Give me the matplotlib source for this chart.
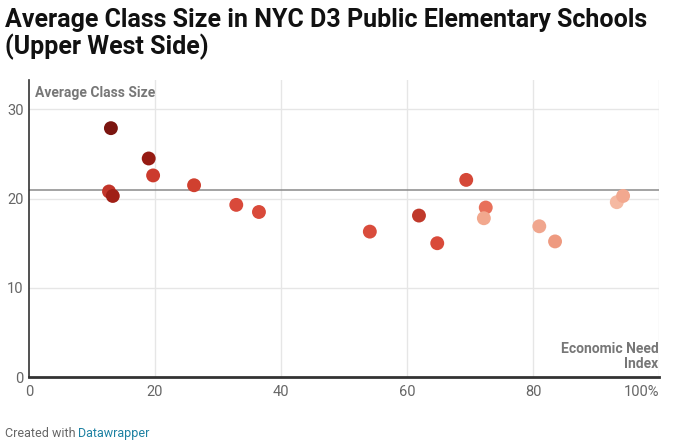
import matplotlib.pyplot as plt

# === Données ===
economic_need = [13.0, 19.0, 19.7, 12.7, 13.3, 26.2, 32.9, 36.5, 54.1, 61.9,
                 64.8, 69.4, 72.5, 72.2, 81.0, 83.5, 93.3, 94.3]
class_size = [27.9, 24.5, 22.6, 20.8, 20.3, 21.5, 19.3, 18.5, 16.3, 18.1,
              15.0, 22.1, 19.0, 17.8, 16.9, 15.2, 19.6, 20.3]
point_colors = ["#7b1510", "#961b13", "#cc3b2d", "#c2352a", "#a01f16", "#d0402f",
                "#d9493a", "#d94a3a", "#d94c3c", "#c0392b", "#d94a3a", "#d54838",
                "#e8705a", "#f2a88e", "#f0a68e", "#ee9a80", "#f5b9a2", "#f2a88f"]
average = 21.0
x_ticks = [0, 20, 40, 60, 80, 100]
x_labels = ["0", "20", "40", "60", "80", "100%"]
y_ticks = [0, 10, 20, 30]

plt.rcParams['font.family'] = ['Roboto', 'DejaVu Sans']

fig = plt.figure(figsize=(6.8, 4.44), dpi=100)
ax = fig.add_axes([29/680, 67/444, 630/680, 297/444])

ax.set_xlim(0, 100)
ax.set_ylim(0, 33.3)

# grille
for x in x_ticks[1:]:
    ax.axvline(x, color="#e6e6e6", lw=1, zorder=0)
for y in y_ticks[1:]:
    ax.axhline(y, color="#e6e6e6", lw=1, zorder=0)

ax.axhline(average, color="#8a8a8a", lw=1.1, zorder=1)

ax.scatter(economic_need, class_size, s=100, c=point_colors, edgecolors="none", zorder=3)

for side in ["top", "right"]:
    ax.spines[side].set_visible(False)
ax.spines["left"].set_color("#333333")
ax.spines["left"].set_linewidth(1.2)
ax.spines["bottom"].set_color("#333333")
ax.spines["bottom"].set_linewidth(2)

ax.set_xticks(x_ticks)
ax.set_xticklabels(x_labels)
ax.set_yticks(y_ticks)
ax.tick_params(length=0, colors="#666666", labelsize=10.5)
ax.tick_params(axis="x", pad=6)
ax.tick_params(axis="y", pad=4)
ax.get_xticklabels()[-1].set_horizontalalignment("right")

ax.text(1, 32.6, "Average Class Size", fontsize=10, fontweight="bold",
        color="#777777", va="top", ha="left")
ax.text(99.9, 2.3, "Economic Need\nIndex", fontsize=10, fontweight="bold",
        color="#777777", va="center", ha="right", linespacing=1.15)

fig.text(5/680, 1 - 20/444, "Average Class Size in NYC D3 Public Elementary Schools",
         fontsize=18, fontweight="bold", color="#111111", va="center", ha="left")
fig.text(5/680, 1 - 47/444, "(Upper West Side)",
         fontsize=18, fontweight="bold", color="#111111", va="center", ha="left")
fig.text(5/680, 1 - 433/444, "Created with", fontsize=9, color="#666666", va="center")
fig.text(78/680, 1 - 433/444, "Datawrapper", fontsize=9, color="#1d81a2", va="center")

plt.savefig("out.png", dpi=100)
